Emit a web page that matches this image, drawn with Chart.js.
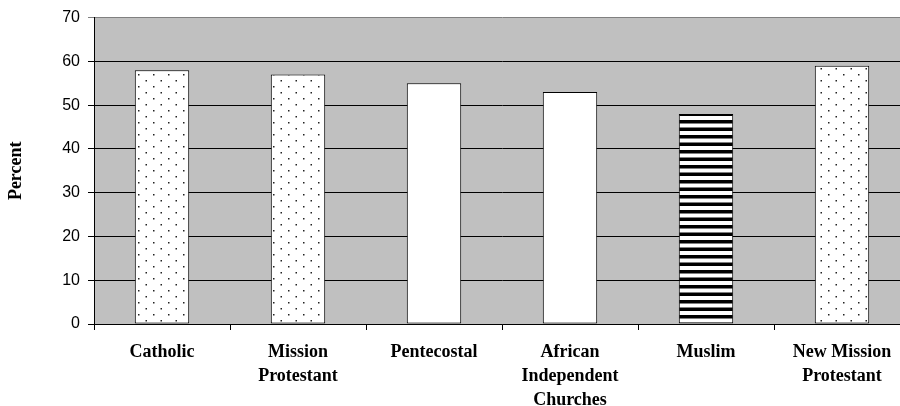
<!DOCTYPE html>
<html>
<head>
<meta charset="utf-8">
<script src="https://cdn.jsdelivr.net/npm/chart.js@4"></script>
<style>
html,body{margin:0;padding:0;background:#fff;overflow:hidden;width:900px;height:406px;}
#wrap{width:910px;height:406px;}
</style>
</head>
<body>
<div id="wrap"><canvas id="c" width="910" height="406"></canvas></div>
<script>
// Data
const categories = [['Catholic'], ['Mission', 'Protestant'], ['Pentecostal'], ['African', 'Independent', 'Churches'], ['Muslim'], ['New Mission', 'Protestant']];
const percentValues = [58, 57, 55, 53, 48, 59];
const fillKinds = ['dots', 'dots', 'plain', 'plain', 'stripes', 'dots'];
const yTicks = [0, 10, 20, 30, 40, 50, 60, 70];
const yTitle = 'Percent';

function makePattern(kind) {
  const ctx0 = document.createElement('canvas').getContext('2d');
  if (kind === 'plain') return '#ffffff';
  const t = document.createElement('canvas');
  if (kind === 'dots') {
    t.width = 15; t.height = 12;
    const c = t.getContext('2d');
    c.fillStyle = '#fff'; c.fillRect(0, 0, 15, 12);
    c.fillStyle = '#222';
    c.fillRect(3, 2, 1.5, 1.5);
    c.fillRect(10.5, 8, 1.5, 1.5);
  } else {
    t.width = 8; t.height = 15;
    const c = t.getContext('2d');
    c.fillStyle = '#fff'; c.fillRect(0, 0, 8, 15);
    c.fillStyle = '#000';
    c.fillRect(0, 0, 8, 3.5);
    c.fillRect(0, 7.5, 8, 3.5);
  }
  return ctx0.createPattern(t, 'repeat');
}
const fills = fillKinds.map(makePattern);

const bgPlugin = {
  id: 'plotBg',
  beforeDraw(chart) {
    const {ctx, chartArea: a} = chart;
    ctx.save();
    ctx.fillStyle = '#c0c0c0';
    ctx.fillRect(a.left, a.top, a.right - a.left, a.bottom - a.top);
    ctx.restore();
  }
};

new Chart(document.getElementById('c'), {
  type: 'bar',
  data: {
    labels: categories,
    datasets: [{
      data: percentValues,
      backgroundColor: fills,
      borderColor: '#000',
      borderWidth: 1,
      borderSkipped: false,
      barPercentage: 0.4,
      categoryPercentage: 1.0
    }]
  },
  options: {
    responsive: false,
    animation: false,
    devicePixelRatio: 1,
    layout: {padding: {top: 13, left: 0, right: 0, bottom: 0}},
    plugins: {legend: {display: false}, tooltip: {enabled: false}},
    scales: {
      x: {
        grid: {display: true, drawOnChartArea: false, drawTicks: true, tickLength: 6, color: '#000', offset: true},
        border: {display: true, color: '#000', width: 1},
        ticks: {
          color: '#000', autoSkip: false, maxRotation: 0, minRotation: 0, padding: 10,
          font: {family: '"Liberation Serif", "Times New Roman", serif', size: 18, weight: 'bold', lineHeight: 1.333}
        },
        afterFit(scale) { scale.height = 82; }
      },
      y: {
        min: 0, max: 70,
        afterBuildTicks(scale) { scale.ticks = yTicks.map(v => ({value: v})); },
        grid: {
          color: c => (c.tick && c.tick.value === 70) ? '#808080' : '#000',
          tickLength: 6, drawTicks: true
        },
        border: {display: true, color: '#000', width: 1},
        ticks: {
          color: '#000', padding: 8,
          font: {family: '"Liberation Sans", Arial, sans-serif', size: 16}
        },
        title: {
          display: true, text: yTitle, color: '#000',
          font: {family: '"Liberation Serif", "Times New Roman", serif', size: 18, weight: 'bold', lineHeight: 1.2},
          padding: {top: 6, bottom: 0}
        },
        afterFit(scale) { scale.width = 94; }
      }
    }
  },
  plugins: [bgPlugin]
});
</script>
</body>
</html>
